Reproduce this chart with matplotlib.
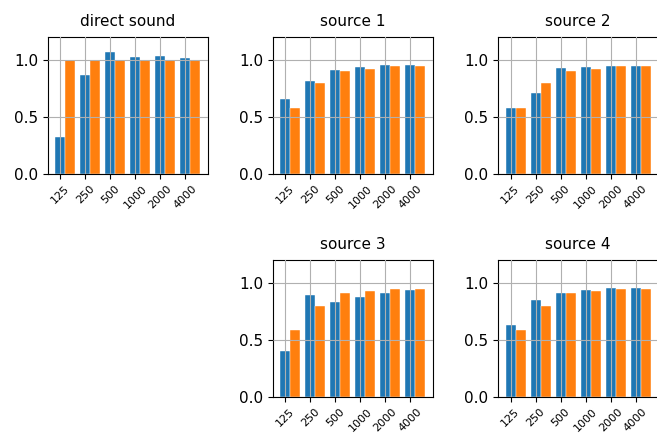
import numpy as np
import matplotlib.pyplot as plt

bands = ['125', '250', '500', '1000', '2000', '4000']
titles = ['direct sound', 'source 1', 'source 2', 'source 3', 'source 4']

# measured (blue) and target (orange) per panel
direct_meas = [0.32, 0.87, 1.065, 1.026, 1.03, 1.018]
direct_ref = [1.0, 1.0, 1.0, 1.0, 1.0, 1.0]
src1_meas = [0.656, 0.818, 0.909, 0.935, 0.953, 0.953]
src2_meas = [0.574, 0.712, 0.929, 0.935, 0.95, 0.95]
src3_meas = [0.403, 0.888, 0.832, 0.871, 0.906, 0.932]
src4_meas = [0.632, 0.844, 0.906, 0.932, 0.953, 0.953]
src_ref = [0.582, 0.794, 0.906, 0.922, 0.944, 0.944]

meas = [direct_meas, src1_meas, src2_meas, src3_meas, src4_meas]
refs = [direct_ref, src_ref, src_ref, src_ref, src_ref]

fig = plt.figure(figsize=(6.57, 4.37), dpi=100)

# axes positions: top row 3 panels, bottom row middle + right
w, h = 0.243, 0.3135
positions = [
    [0.0731, 0.6018, w, h],
    [0.4155, 0.6018, w, h],
    [0.7585, 0.6018, w, h],
    [0.4155, 0.0922, w, h],
    [0.7585, 0.0922, w, h],
]

x = np.arange(len(bands))
for i in range(5):
    ax = fig.add_axes(positions[i])
    ax.bar(x, meas[i], width=0.4, color='#1f77b4', edgecolor='white', linewidth=0.3)
    ax.bar(x + 0.4, refs[i], width=0.4, color='#ff7f0e', edgecolor='white', linewidth=0.3)
    ax.set_ylim(0, 1.2)
    ax.set_yticks([0.0, 0.5, 1.0])
    ax.set_xticks(x)
    ax.set_xticklabels(bands, rotation=45, fontsize=8)
    ax.tick_params(axis='y', labelsize=11)
    ax.set_title(titles[i], fontsize=11, pad=8)
    ax.grid(True, color='#b0b0b0', linewidth=0.8)
    ax.set_axisbelow(False)

fig.savefig('out.png', dpi=100)
